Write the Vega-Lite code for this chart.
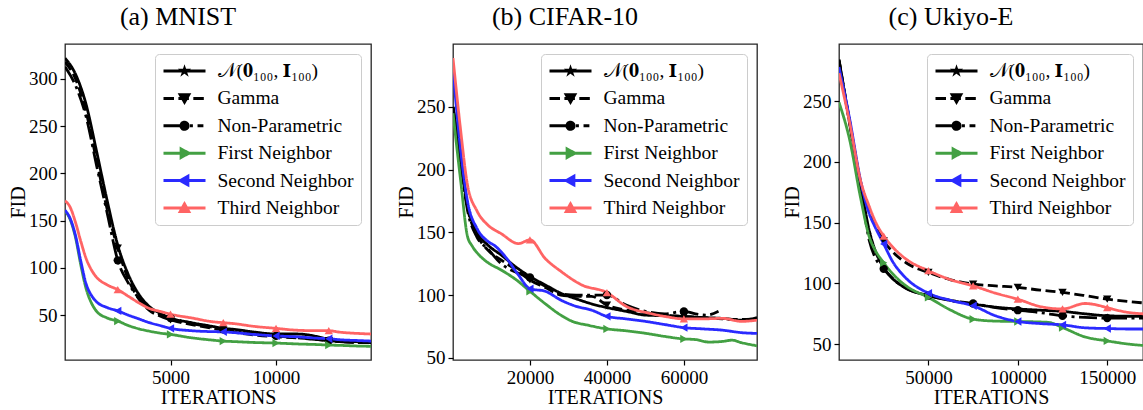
{
"$schema": "https://vega.github.io/schema/vega-lite/v6.json",
"padding": {"left": 7, "top": 3, "right": 0, "bottom": 0},
"background": "white",
"bounds": "flush",
"spacing": 82,
"datasets": {
"d": [
{"p":"A","s":"N","x":0,"y":322},{"p":"A","s":"N","x":500,"y":305},{"p":"A","s":"N","x":1000,"y":273},{"p":"A","s":"N","x":1500,"y":223},{"p":"A","s":"N","x":2000,"y":171},{"p":"A","s":"N","x":2500,"y":124},{"p":"A","s":"N","x":3000,"y":93},{"p":"A","s":"N","x":3500,"y":72},{"p":"A","s":"N","x":4000,"y":59},{"p":"A","s":"N","x":4500,"y":52},{"p":"A","s":"N","x":5000,"y":47},{"p":"A","s":"N","x":6000,"y":42},{"p":"A","s":"N","x":7000,"y":38},{"p":"A","s":"N","x":7500,"y":36},{"p":"A","s":"N","x":8000,"y":35},{"p":"A","s":"N","x":9000,"y":32},{"p":"A","s":"N","x":10000,"y":30},{"p":"A","s":"N","x":11000,"y":30},{"p":"A","s":"N","x":12000,"y":27},{"p":"A","s":"N","x":12500,"y":24},{"p":"A","s":"N","x":13000,"y":22.5},{"p":"A","s":"N","x":14000,"y":22},{"p":"A","s":"N","x":14500,"y":22},
{"p":"A","s":"Gamma","x":0,"y":318},{"p":"A","s":"Gamma","x":500,"y":300},{"p":"A","s":"Gamma","x":1000,"y":265},{"p":"A","s":"Gamma","x":1500,"y":213},{"p":"A","s":"Gamma","x":2000,"y":162},{"p":"A","s":"Gamma","x":2500,"y":121},{"p":"A","s":"Gamma","x":3000,"y":88},{"p":"A","s":"Gamma","x":3500,"y":67},{"p":"A","s":"Gamma","x":4000,"y":55},{"p":"A","s":"Gamma","x":4500,"y":49},{"p":"A","s":"Gamma","x":5000,"y":45},{"p":"A","s":"Gamma","x":6000,"y":40},{"p":"A","s":"Gamma","x":7000,"y":36},{"p":"A","s":"Gamma","x":7500,"y":34},{"p":"A","s":"Gamma","x":8000,"y":32},{"p":"A","s":"Gamma","x":9000,"y":29},{"p":"A","s":"Gamma","x":10000,"y":27},{"p":"A","s":"Gamma","x":11000,"y":26},{"p":"A","s":"Gamma","x":12000,"y":24},{"p":"A","s":"Gamma","x":12500,"y":23},{"p":"A","s":"Gamma","x":13000,"y":22},{"p":"A","s":"Gamma","x":14000,"y":21},{"p":"A","s":"Gamma","x":14500,"y":21},
{"p":"A","s":"Non-Parametric","x":0,"y":313},{"p":"A","s":"Non-Parametric","x":500,"y":293},{"p":"A","s":"Non-Parametric","x":1000,"y":260},{"p":"A","s":"Non-Parametric","x":1500,"y":208},{"p":"A","s":"Non-Parametric","x":2000,"y":158},{"p":"A","s":"Non-Parametric","x":2500,"y":108},{"p":"A","s":"Non-Parametric","x":3000,"y":84},{"p":"A","s":"Non-Parametric","x":3500,"y":68},{"p":"A","s":"Non-Parametric","x":4000,"y":57},{"p":"A","s":"Non-Parametric","x":4500,"y":51},{"p":"A","s":"Non-Parametric","x":5000,"y":47},{"p":"A","s":"Non-Parametric","x":6000,"y":41},{"p":"A","s":"Non-Parametric","x":7000,"y":37},{"p":"A","s":"Non-Parametric","x":7500,"y":35},{"p":"A","s":"Non-Parametric","x":8000,"y":33},{"p":"A","s":"Non-Parametric","x":9000,"y":30},{"p":"A","s":"Non-Parametric","x":10000,"y":28},{"p":"A","s":"Non-Parametric","x":11000,"y":26},{"p":"A","s":"Non-Parametric","x":12000,"y":24},{"p":"A","s":"Non-Parametric","x":12500,"y":23},{"p":"A","s":"Non-Parametric","x":13000,"y":22},{"p":"A","s":"Non-Parametric","x":14000,"y":21},{"p":"A","s":"Non-Parametric","x":14500,"y":21},
{"p":"A","s":"First Neighbor","x":0,"y":160},{"p":"A","s":"First Neighbor","x":250,"y":151},{"p":"A","s":"First Neighbor","x":500,"y":132},{"p":"A","s":"First Neighbor","x":750,"y":103},{"p":"A","s":"First Neighbor","x":1000,"y":78},{"p":"A","s":"First Neighbor","x":1250,"y":63},{"p":"A","s":"First Neighbor","x":1500,"y":54},{"p":"A","s":"First Neighbor","x":2000,"y":47},{"p":"A","s":"First Neighbor","x":2500,"y":43.7},{"p":"A","s":"First Neighbor","x":3000,"y":39},{"p":"A","s":"First Neighbor","x":3500,"y":35.5},{"p":"A","s":"First Neighbor","x":4000,"y":33},{"p":"A","s":"First Neighbor","x":4500,"y":31},{"p":"A","s":"First Neighbor","x":5000,"y":29.6},{"p":"A","s":"First Neighbor","x":6000,"y":26},{"p":"A","s":"First Neighbor","x":7000,"y":23.5},{"p":"A","s":"First Neighbor","x":7500,"y":22.5},{"p":"A","s":"First Neighbor","x":8000,"y":22},{"p":"A","s":"First Neighbor","x":9000,"y":21},{"p":"A","s":"First Neighbor","x":10000,"y":20.4},{"p":"A","s":"First Neighbor","x":11000,"y":19.5},{"p":"A","s":"First Neighbor","x":12000,"y":18.8},{"p":"A","s":"First Neighbor","x":12500,"y":18.3},{"p":"A","s":"First Neighbor","x":13000,"y":18},{"p":"A","s":"First Neighbor","x":14000,"y":17.2},{"p":"A","s":"First Neighbor","x":14500,"y":17},
{"p":"A","s":"Second Neighbor","x":0,"y":161},{"p":"A","s":"Second Neighbor","x":250,"y":152},{"p":"A","s":"Second Neighbor","x":500,"y":134},{"p":"A","s":"Second Neighbor","x":750,"y":107},{"p":"A","s":"Second Neighbor","x":1000,"y":83},{"p":"A","s":"Second Neighbor","x":1250,"y":71},{"p":"A","s":"Second Neighbor","x":1500,"y":64},{"p":"A","s":"Second Neighbor","x":2000,"y":58},{"p":"A","s":"Second Neighbor","x":2500,"y":54.5},{"p":"A","s":"Second Neighbor","x":3000,"y":50},{"p":"A","s":"Second Neighbor","x":3500,"y":46},{"p":"A","s":"Second Neighbor","x":4000,"y":42},{"p":"A","s":"Second Neighbor","x":4500,"y":39},{"p":"A","s":"Second Neighbor","x":5000,"y":36},{"p":"A","s":"Second Neighbor","x":6000,"y":33.5},{"p":"A","s":"Second Neighbor","x":7000,"y":32.5},{"p":"A","s":"Second Neighbor","x":7500,"y":32.3},{"p":"A","s":"Second Neighbor","x":8000,"y":31.5},{"p":"A","s":"Second Neighbor","x":9000,"y":29.5},{"p":"A","s":"Second Neighbor","x":10000,"y":28},{"p":"A","s":"Second Neighbor","x":11000,"y":27},{"p":"A","s":"Second Neighbor","x":12000,"y":25.5},{"p":"A","s":"Second Neighbor","x":12500,"y":25},{"p":"A","s":"Second Neighbor","x":13000,"y":24},{"p":"A","s":"Second Neighbor","x":14000,"y":23},{"p":"A","s":"Second Neighbor","x":14500,"y":22.5},
{"p":"A","s":"Third Neighbor","x":0,"y":171},{"p":"A","s":"Third Neighbor","x":250,"y":164},{"p":"A","s":"Third Neighbor","x":500,"y":148},{"p":"A","s":"Third Neighbor","x":750,"y":128},{"p":"A","s":"Third Neighbor","x":1000,"y":110},{"p":"A","s":"Third Neighbor","x":1250,"y":98},{"p":"A","s":"Third Neighbor","x":1500,"y":90},{"p":"A","s":"Third Neighbor","x":2000,"y":82},{"p":"A","s":"Third Neighbor","x":2500,"y":77},{"p":"A","s":"Third Neighbor","x":3000,"y":70},{"p":"A","s":"Third Neighbor","x":3500,"y":63},{"p":"A","s":"Third Neighbor","x":4000,"y":57},{"p":"A","s":"Third Neighbor","x":4500,"y":54},{"p":"A","s":"Third Neighbor","x":5000,"y":51},{"p":"A","s":"Third Neighbor","x":6000,"y":47},{"p":"A","s":"Third Neighbor","x":7000,"y":43},{"p":"A","s":"Third Neighbor","x":7500,"y":42},{"p":"A","s":"Third Neighbor","x":8000,"y":41},{"p":"A","s":"Third Neighbor","x":9000,"y":38},{"p":"A","s":"Third Neighbor","x":10000,"y":36},{"p":"A","s":"Third Neighbor","x":11000,"y":34},{"p":"A","s":"Third Neighbor","x":12000,"y":33.5},{"p":"A","s":"Third Neighbor","x":12500,"y":33.5},{"p":"A","s":"Third Neighbor","x":13000,"y":32},{"p":"A","s":"Third Neighbor","x":14000,"y":30.5},{"p":"A","s":"Third Neighbor","x":14500,"y":30},

{"p":"B","s":"N","x":0,"y":250},{"p":"B","s":"N","x":2000,"y":209},{"p":"B","s":"N","x":3750,"y":172},{"p":"B","s":"N","x":6250,"y":150},{"p":"B","s":"N","x":9000,"y":140},{"p":"B","s":"N","x":12500,"y":132},{"p":"B","s":"N","x":16500,"y":122},{"p":"B","s":"N","x":20000,"y":114.8},{"p":"B","s":"N","x":24000,"y":108},{"p":"B","s":"N","x":28000,"y":101.5},{"p":"B","s":"N","x":32000,"y":97},{"p":"B","s":"N","x":36000,"y":93},{"p":"B","s":"N","x":40000,"y":90},{"p":"B","s":"N","x":45000,"y":87},{"p":"B","s":"N","x":50000,"y":84},{"p":"B","s":"N","x":55000,"y":83.5},{"p":"B","s":"N","x":60000,"y":82.8},{"p":"B","s":"N","x":65000,"y":82},{"p":"B","s":"N","x":70000,"y":81.4},{"p":"B","s":"N","x":75000,"y":80},{"p":"B","s":"N","x":79000,"y":82},
{"p":"B","s":"Gamma","x":0,"y":250},{"p":"B","s":"Gamma","x":2000,"y":207},{"p":"B","s":"Gamma","x":3750,"y":170},{"p":"B","s":"Gamma","x":6250,"y":148},{"p":"B","s":"Gamma","x":9000,"y":136},{"p":"B","s":"Gamma","x":12500,"y":128},{"p":"B","s":"Gamma","x":16500,"y":120},{"p":"B","s":"Gamma","x":20000,"y":112},{"p":"B","s":"Gamma","x":24000,"y":106},{"p":"B","s":"Gamma","x":28000,"y":100},{"p":"B","s":"Gamma","x":32000,"y":99},{"p":"B","s":"Gamma","x":36000,"y":99},{"p":"B","s":"Gamma","x":40000,"y":92},{"p":"B","s":"Gamma","x":45000,"y":88},{"p":"B","s":"Gamma","x":50000,"y":86},{"p":"B","s":"Gamma","x":55000,"y":84},{"p":"B","s":"Gamma","x":60000,"y":83},{"p":"B","s":"Gamma","x":65000,"y":82},{"p":"B","s":"Gamma","x":70000,"y":81},{"p":"B","s":"Gamma","x":75000,"y":80.5},{"p":"B","s":"Gamma","x":79000,"y":81},
{"p":"B","s":"Non-Parametric","x":0,"y":250},{"p":"B","s":"Non-Parametric","x":2000,"y":205},{"p":"B","s":"Non-Parametric","x":3750,"y":168},{"p":"B","s":"Non-Parametric","x":6250,"y":146},{"p":"B","s":"Non-Parametric","x":9000,"y":137},{"p":"B","s":"Non-Parametric","x":12500,"y":125},{"p":"B","s":"Non-Parametric","x":16500,"y":118},{"p":"B","s":"Non-Parametric","x":20000,"y":114},{"p":"B","s":"Non-Parametric","x":24000,"y":107},{"p":"B","s":"Non-Parametric","x":28000,"y":101},{"p":"B","s":"Non-Parametric","x":32000,"y":100},{"p":"B","s":"Non-Parametric","x":36000,"y":100},{"p":"B","s":"Non-Parametric","x":40000,"y":100},{"p":"B","s":"Non-Parametric","x":45000,"y":92},{"p":"B","s":"Non-Parametric","x":50000,"y":87},{"p":"B","s":"Non-Parametric","x":55000,"y":85},{"p":"B","s":"Non-Parametric","x":60000,"y":87},{"p":"B","s":"Non-Parametric","x":63000,"y":85},{"p":"B","s":"Non-Parametric","x":66000,"y":84},{"p":"B","s":"Non-Parametric","x":69000,"y":87},
{"p":"B","s":"First Neighbor","x":0,"y":245},{"p":"B","s":"First Neighbor","x":2000,"y":191},{"p":"B","s":"First Neighbor","x":3750,"y":147},{"p":"B","s":"First Neighbor","x":5000,"y":139},{"p":"B","s":"First Neighbor","x":6750,"y":132},{"p":"B","s":"First Neighbor","x":9000,"y":126},{"p":"B","s":"First Neighbor","x":12500,"y":120},{"p":"B","s":"First Neighbor","x":16500,"y":112},{"p":"B","s":"First Neighbor","x":20000,"y":103},{"p":"B","s":"First Neighbor","x":24000,"y":93},{"p":"B","s":"First Neighbor","x":28000,"y":84},{"p":"B","s":"First Neighbor","x":31000,"y":79},{"p":"B","s":"First Neighbor","x":35000,"y":76},{"p":"B","s":"First Neighbor","x":40000,"y":73},{"p":"B","s":"First Neighbor","x":45000,"y":71.5},{"p":"B","s":"First Neighbor","x":50000,"y":69.5},{"p":"B","s":"First Neighbor","x":55000,"y":67},{"p":"B","s":"First Neighbor","x":60000,"y":65},{"p":"B","s":"First Neighbor","x":63000,"y":64.5},{"p":"B","s":"First Neighbor","x":66500,"y":62.5},{"p":"B","s":"First Neighbor","x":70000,"y":63},{"p":"B","s":"First Neighbor","x":72500,"y":64},{"p":"B","s":"First Neighbor","x":75000,"y":62},{"p":"B","s":"First Neighbor","x":79000,"y":59.5},
{"p":"B","s":"Second Neighbor","x":0,"y":280},{"p":"B","s":"Second Neighbor","x":2000,"y":215},{"p":"B","s":"Second Neighbor","x":3750,"y":175},{"p":"B","s":"Second Neighbor","x":6250,"y":153},{"p":"B","s":"Second Neighbor","x":9000,"y":143},{"p":"B","s":"Second Neighbor","x":11000,"y":139},{"p":"B","s":"Second Neighbor","x":14000,"y":129},{"p":"B","s":"Second Neighbor","x":17000,"y":116},{"p":"B","s":"Second Neighbor","x":20000,"y":105},{"p":"B","s":"Second Neighbor","x":24000,"y":103},{"p":"B","s":"Second Neighbor","x":28000,"y":96},{"p":"B","s":"Second Neighbor","x":32000,"y":91},{"p":"B","s":"Second Neighbor","x":36000,"y":88},{"p":"B","s":"Second Neighbor","x":40000,"y":83},{"p":"B","s":"Second Neighbor","x":45000,"y":81},{"p":"B","s":"Second Neighbor","x":50000,"y":79},{"p":"B","s":"Second Neighbor","x":55000,"y":76.5},{"p":"B","s":"Second Neighbor","x":60000,"y":74},{"p":"B","s":"Second Neighbor","x":65000,"y":73},{"p":"B","s":"Second Neighbor","x":70000,"y":72},{"p":"B","s":"Second Neighbor","x":75000,"y":70},{"p":"B","s":"Second Neighbor","x":79000,"y":69.4},
{"p":"B","s":"Third Neighbor","x":0,"y":289},{"p":"B","s":"Third Neighbor","x":2000,"y":231},{"p":"B","s":"Third Neighbor","x":3750,"y":188},{"p":"B","s":"Third Neighbor","x":6250,"y":167},{"p":"B","s":"Third Neighbor","x":9000,"y":156},{"p":"B","s":"Third Neighbor","x":12500,"y":149},{"p":"B","s":"Third Neighbor","x":17000,"y":141},{"p":"B","s":"Third Neighbor","x":20000,"y":144},{"p":"B","s":"Third Neighbor","x":24000,"y":129},{"p":"B","s":"Third Neighbor","x":28000,"y":119},{"p":"B","s":"Third Neighbor","x":33500,"y":108},{"p":"B","s":"Third Neighbor","x":40000,"y":102},{"p":"B","s":"Third Neighbor","x":45000,"y":91},{"p":"B","s":"Third Neighbor","x":51000,"y":85.5},{"p":"B","s":"Third Neighbor","x":55000,"y":83},{"p":"B","s":"Third Neighbor","x":60000,"y":81},{"p":"B","s":"Third Neighbor","x":65000,"y":81},{"p":"B","s":"Third Neighbor","x":70000,"y":81.4},{"p":"B","s":"Third Neighbor","x":75000,"y":79},{"p":"B","s":"Third Neighbor","x":79000,"y":80},

{"p":"C","s":"N","x":0,"y":284},{"p":"C","s":"N","x":6000,"y":232},{"p":"C","s":"N","x":12000,"y":182},{"p":"C","s":"N","x":17000,"y":143},{"p":"C","s":"N","x":20000,"y":128},{"p":"C","s":"N","x":25000,"y":113},{"p":"C","s":"N","x":30000,"y":104},{"p":"C","s":"N","x":37500,"y":96},{"p":"C","s":"N","x":50000,"y":90},{"p":"C","s":"N","x":62500,"y":86},{"p":"C","s":"N","x":75000,"y":83},{"p":"C","s":"N","x":87500,"y":80.5},{"p":"C","s":"N","x":100000,"y":79},{"p":"C","s":"N","x":112500,"y":78},{"p":"C","s":"N","x":125000,"y":77},{"p":"C","s":"N","x":137500,"y":75},{"p":"C","s":"N","x":150000,"y":73.4},{"p":"C","s":"N","x":162500,"y":73},{"p":"C","s":"N","x":170000,"y":73},
{"p":"C","s":"Gamma","x":0,"y":284},{"p":"C","s":"Gamma","x":6000,"y":233},{"p":"C","s":"Gamma","x":12000,"y":184},{"p":"C","s":"Gamma","x":17000,"y":160},{"p":"C","s":"Gamma","x":20000,"y":150},{"p":"C","s":"Gamma","x":25000,"y":135},{"p":"C","s":"Gamma","x":30000,"y":126},{"p":"C","s":"Gamma","x":37500,"y":117},{"p":"C","s":"Gamma","x":50000,"y":109},{"p":"C","s":"Gamma","x":62500,"y":103},{"p":"C","s":"Gamma","x":75000,"y":99.5},{"p":"C","s":"Gamma","x":87500,"y":98},{"p":"C","s":"Gamma","x":100000,"y":96.7},{"p":"C","s":"Gamma","x":112500,"y":94.5},{"p":"C","s":"Gamma","x":125000,"y":92.6},{"p":"C","s":"Gamma","x":137500,"y":90},{"p":"C","s":"Gamma","x":150000,"y":87.1},{"p":"C","s":"Gamma","x":162500,"y":85},{"p":"C","s":"Gamma","x":170000,"y":84},
{"p":"C","s":"Non-Parametric","x":0,"y":283},{"p":"C","s":"Non-Parametric","x":6000,"y":231},{"p":"C","s":"Non-Parametric","x":12000,"y":180},{"p":"C","s":"Non-Parametric","x":17000,"y":135},{"p":"C","s":"Non-Parametric","x":20000,"y":122},{"p":"C","s":"Non-Parametric","x":25000,"y":112},{"p":"C","s":"Non-Parametric","x":30000,"y":104},{"p":"C","s":"Non-Parametric","x":37500,"y":96},{"p":"C","s":"Non-Parametric","x":50000,"y":90},{"p":"C","s":"Non-Parametric","x":62500,"y":86},{"p":"C","s":"Non-Parametric","x":75000,"y":83.5},{"p":"C","s":"Non-Parametric","x":87500,"y":80},{"p":"C","s":"Non-Parametric","x":100000,"y":78},{"p":"C","s":"Non-Parametric","x":112500,"y":76},{"p":"C","s":"Non-Parametric","x":125000,"y":73.4},{"p":"C","s":"Non-Parametric","x":137500,"y":72},{"p":"C","s":"Non-Parametric","x":150000,"y":71.5},{"p":"C","s":"Non-Parametric","x":162500,"y":71.5},{"p":"C","s":"Non-Parametric","x":170000,"y":71.5},
{"p":"C","s":"First Neighbor","x":0,"y":249},{"p":"C","s":"First Neighbor","x":6000,"y":218},{"p":"C","s":"First Neighbor","x":12000,"y":171},{"p":"C","s":"First Neighbor","x":17000,"y":138},{"p":"C","s":"First Neighbor","x":20000,"y":128},{"p":"C","s":"First Neighbor","x":25000,"y":117},{"p":"C","s":"First Neighbor","x":30000,"y":108},{"p":"C","s":"First Neighbor","x":37500,"y":98},{"p":"C","s":"First Neighbor","x":50000,"y":88.5},{"p":"C","s":"First Neighbor","x":62500,"y":78},{"p":"C","s":"First Neighbor","x":75000,"y":70.6},{"p":"C","s":"First Neighbor","x":87500,"y":69},{"p":"C","s":"First Neighbor","x":100000,"y":68.7},{"p":"C","s":"First Neighbor","x":117000,"y":68},{"p":"C","s":"First Neighbor","x":125000,"y":63.7},{"p":"C","s":"First Neighbor","x":137500,"y":56},{"p":"C","s":"First Neighbor","x":150000,"y":52.7},{"p":"C","s":"First Neighbor","x":162500,"y":50},{"p":"C","s":"First Neighbor","x":170000,"y":49},
{"p":"C","s":"Second Neighbor","x":0,"y":278},{"p":"C","s":"Second Neighbor","x":6000,"y":235},{"p":"C","s":"Second Neighbor","x":12000,"y":185},{"p":"C","s":"Second Neighbor","x":17000,"y":157},{"p":"C","s":"Second Neighbor","x":20000,"y":147},{"p":"C","s":"Second Neighbor","x":25000,"y":132.5},{"p":"C","s":"Second Neighbor","x":30000,"y":118},{"p":"C","s":"Second Neighbor","x":37000,"y":105},{"p":"C","s":"Second Neighbor","x":50000,"y":92},{"p":"C","s":"Second Neighbor","x":62500,"y":86},{"p":"C","s":"Second Neighbor","x":75000,"y":81.6},{"p":"C","s":"Second Neighbor","x":87500,"y":73.4},{"p":"C","s":"Second Neighbor","x":100000,"y":68.7},{"p":"C","s":"Second Neighbor","x":112500,"y":67},{"p":"C","s":"Second Neighbor","x":125000,"y":65.9},{"p":"C","s":"Second Neighbor","x":137500,"y":63.5},{"p":"C","s":"Second Neighbor","x":150000,"y":62.9},{"p":"C","s":"Second Neighbor","x":162500,"y":62.5},{"p":"C","s":"Second Neighbor","x":170000,"y":62.5},
{"p":"C","s":"Third Neighbor","x":0,"y":273},{"p":"C","s":"Third Neighbor","x":6000,"y":232},{"p":"C","s":"Third Neighbor","x":12000,"y":185},{"p":"C","s":"Third Neighbor","x":17000,"y":163},{"p":"C","s":"Third Neighbor","x":20000,"y":152},{"p":"C","s":"Third Neighbor","x":25000,"y":139},{"p":"C","s":"Third Neighbor","x":30000,"y":130},{"p":"C","s":"Third Neighbor","x":37500,"y":120},{"p":"C","s":"Third Neighbor","x":50000,"y":110.5},{"p":"C","s":"Third Neighbor","x":62500,"y":103},{"p":"C","s":"Third Neighbor","x":75000,"y":98},{"p":"C","s":"Third Neighbor","x":87500,"y":92},{"p":"C","s":"Third Neighbor","x":100000,"y":87},{"p":"C","s":"Third Neighbor","x":112500,"y":81},{"p":"C","s":"Third Neighbor","x":125000,"y":79},{"p":"C","s":"Third Neighbor","x":137500,"y":83.5},{"p":"C","s":"Third Neighbor","x":145000,"y":82},{"p":"C","s":"Third Neighbor","x":150000,"y":80},{"p":"C","s":"Third Neighbor","x":162500,"y":76},{"p":"C","s":"Third Neighbor","x":170000,"y":75}
]
},
"resolve": {
  "scale": {"color": "independent", "fill": "independent", "shape": "independent", "strokeDash": "independent", "x": "independent", "y": "independent"},
  "legend": {"color": "independent"}
},
"hconcat": [
{
  "width": 306, "height": 316,
  "title": {"text": "(a) MNIST"},
  "data": {"name": "d"},
  "transform": [{"filter": "datum.p == 'A'"}],
  "layer": [
    {
      "mark": {"type": "line", "strokeWidth": 2.8, "interpolate": "monotone", "clip": true},
      "encoding": {
        "x": {"field": "x", "type": "quantitative", "scale": {"domain": [0, 14500], "nice": false, "zero": false}, "axis": {"values": [5000, 10000], "title": "ITERATIONS", "format": "d"}},
        "y": {"field": "y", "type": "quantitative", "scale": {"domain": [2.5, 337], "nice": false, "zero": false}, "axis": {"values": [50, 100, 150, 200, 250, 300], "title": "FID"}},
        "color": {"field": "s", "type": "nominal",
          "scale": {"domain": ["N", "Gamma", "Non-Parametric", "First Neighbor", "Second Neighbor", "Third Neighbor"], "range": ["#000000", "#000000", "#000000", "#43a043", "#2a2aff", "#ff6464"]},
          "legend": {"title": null, "orient": "top-right", "offset": 10, "padding": 7, "rowPadding": 7.4, "clipHeight": 20, "symbolSize": 1764, "symbolStrokeWidth": 3, "labelFont": "Liberation Serif", "labelFontSize": 19.5, "labelColor": "black", "labelOffset": 10.5, "labelLimit": 400, "fillColor": "white", "strokeColor": "#cccccc", "cornerRadius": 4,
            "labelExpr": "datum.value == 'N' ? '𝒩(𝟎₁₀₀, 𝐈₁₀₀)' : datum.value",
            "encode": {"symbols": {"update": {
              "shape": {"signal": "datum.value=='N' ? 'M-1,0H1M0,-0.1L0.023,-0.031L0.095,-0.031L0.036,0.012L0.059,0.081L0,0.038L-0.059,0.081L-0.036,0.012L-0.095,-0.031L-0.023,-0.031Z' : datum.value=='Gamma' ? 'M-1,0H-0.5M-0.29,0H0.21M0.42,0H0.92M-0.2,-0.17L0.2,-0.17L0,0.17Z' : datum.value=='Non-Parametric' ? 'M-1,0H-0.14M0.26,0H0.4M0.62,0H0.9M-0.17,0A0.17,0.17 0 1,0 0.17,0A0.17,0.17 0 1,0 -0.17,0Z' : datum.value=='First Neighbor' ? 'M-1,0H1M-0.16,-0.2L0.2,0L-0.16,0.2Z' : datum.value=='Second Neighbor' ? 'M-1,0H1M0.16,-0.2L-0.2,0L0.16,0.2Z' : 'M-1,0H1M-0.2,0.17L0.2,0.17L0,-0.19Z'"},
              "fill": {"signal": "datum.value=='First Neighbor' ? '#43a043' : datum.value=='Second Neighbor' ? '#2a2aff' : datum.value=='Third Neighbor' ? '#ff6464' : '#000000'"},
              "stroke": {"signal": "datum.value=='First Neighbor' ? '#43a043' : datum.value=='Second Neighbor' ? '#2a2aff' : datum.value=='Third Neighbor' ? '#ff6464' : '#000000'"},
              "opacity": {"value": 1},
              "strokeDash": {"value": [1, 0]},
              "size": {"value": 1764}
            }}}
          }},
        "strokeDash": {"field": "s", "type": "nominal", "scale": {"domain": ["Third Neighbor", "Second Neighbor", "First Neighbor", "Non-Parametric", "Gamma", "N"], "range": [[1, 0], [1, 0], [1, 0], [18, 4.5, 3, 4.5], [10, 4.5], [1, 0]]}, "legend": null}
      }
    },
    {
      "transform": [{"filter": "datum.x > 0 && datum.x % 2500 == 0"}],
      "mark": {"type": "point", "filled": true, "opacity": 1, "size": 70, "clip": true, "strokeWidth": 0},
      "encoding": {
        "x": {"field": "x", "type": "quantitative"},
        "y": {"field": "y", "type": "quantitative"},
        "fill": {"field": "s", "type": "nominal", "scale": {"domain": ["Third Neighbor", "Second Neighbor", "First Neighbor", "Non-Parametric", "Gamma", "N"], "range": ["#ff6464", "#2a2aff", "#43a043", "#000000", "#000000", "#000000"]}, "legend": null},
        "shape": {"field": "s", "type": "nominal", "scale": {"domain": ["Third Neighbor", "Second Neighbor", "First Neighbor", "Non-Parametric", "Gamma", "N"], "range": ["triangle-up", "triangle-left", "triangle-right", "circle", "triangle-down", "M0,-0.6L0.13,-0.19L0.57,-0.19L0.22,0.07L0.35,0.49L0,0.23L-0.35,0.49L-0.22,0.07L-0.57,-0.19L-0.13,-0.19Z"]}, "legend": null}
      }
    }
  ]
},
{
  "width": 304, "height": 316,
  "title": {"text": "(b) CIFAR-10"},
  "data": {"name": "d"},
  "transform": [{"filter": "datum.p == 'B'"}],
  "layer": [
    {
      "mark": {"type": "line", "strokeWidth": 2.8, "interpolate": "monotone", "clip": true},
      "encoding": {
        "x": {"field": "x", "type": "quantitative", "scale": {"domain": [0, 79000], "nice": false, "zero": false}, "axis": {"values": [20000, 40000, 60000], "title": "ITERATIONS", "format": "d"}},
        "y": {"field": "y", "type": "quantitative", "scale": {"domain": [48.2, 300.2], "nice": false, "zero": false}, "axis": {"values": [50, 100, 150, 200, 250], "title": "FID"}},
        "color": {"field": "s", "type": "nominal",
          "scale": {"domain": ["N", "Gamma", "Non-Parametric", "First Neighbor", "Second Neighbor", "Third Neighbor"], "range": ["#000000", "#000000", "#000000", "#43a043", "#2a2aff", "#ff6464"]},
          "legend": {"title": null, "orient": "top-right", "offset": 10, "padding": 7, "rowPadding": 7.4, "clipHeight": 20, "symbolSize": 1764, "symbolStrokeWidth": 3, "labelFont": "Liberation Serif", "labelFontSize": 19.5, "labelColor": "black", "labelOffset": 10.5, "labelLimit": 400, "fillColor": "white", "strokeColor": "#cccccc", "cornerRadius": 4,
            "labelExpr": "datum.value == 'N' ? '𝒩(𝟎₁₀₀, 𝐈₁₀₀)' : datum.value",
            "encode": {"symbols": {"update": {
              "shape": {"signal": "datum.value=='N' ? 'M-1,0H1M0,-0.1L0.023,-0.031L0.095,-0.031L0.036,0.012L0.059,0.081L0,0.038L-0.059,0.081L-0.036,0.012L-0.095,-0.031L-0.023,-0.031Z' : datum.value=='Gamma' ? 'M-1,0H-0.5M-0.29,0H0.21M0.42,0H0.92M-0.2,-0.17L0.2,-0.17L0,0.17Z' : datum.value=='Non-Parametric' ? 'M-1,0H-0.14M0.26,0H0.4M0.62,0H0.9M-0.17,0A0.17,0.17 0 1,0 0.17,0A0.17,0.17 0 1,0 -0.17,0Z' : datum.value=='First Neighbor' ? 'M-1,0H1M-0.16,-0.2L0.2,0L-0.16,0.2Z' : datum.value=='Second Neighbor' ? 'M-1,0H1M0.16,-0.2L-0.2,0L0.16,0.2Z' : 'M-1,0H1M-0.2,0.17L0.2,0.17L0,-0.19Z'"},
              "fill": {"signal": "datum.value=='First Neighbor' ? '#43a043' : datum.value=='Second Neighbor' ? '#2a2aff' : datum.value=='Third Neighbor' ? '#ff6464' : '#000000'"},
              "stroke": {"signal": "datum.value=='First Neighbor' ? '#43a043' : datum.value=='Second Neighbor' ? '#2a2aff' : datum.value=='Third Neighbor' ? '#ff6464' : '#000000'"},
              "opacity": {"value": 1},
              "strokeDash": {"value": [1, 0]},
              "size": {"value": 1764}
            }}}
          }},
        "strokeDash": {"field": "s", "type": "nominal", "scale": {"domain": ["Third Neighbor", "Second Neighbor", "First Neighbor", "Non-Parametric", "Gamma", "N"], "range": [[1, 0], [1, 0], [1, 0], [18, 4.5, 3, 4.5], [10, 4.5], [1, 0]]}, "legend": null}
      }
    },
    {
      "transform": [{"filter": "datum.x > 0 && datum.x % 20000 == 0"}],
      "mark": {"type": "point", "filled": true, "opacity": 1, "size": 70, "clip": true, "strokeWidth": 0},
      "encoding": {
        "x": {"field": "x", "type": "quantitative"},
        "y": {"field": "y", "type": "quantitative"},
        "fill": {"field": "s", "type": "nominal", "scale": {"domain": ["Third Neighbor", "Second Neighbor", "First Neighbor", "Non-Parametric", "Gamma", "N"], "range": ["#ff6464", "#2a2aff", "#43a043", "#000000", "#000000", "#000000"]}, "legend": null},
        "shape": {"field": "s", "type": "nominal", "scale": {"domain": ["Third Neighbor", "Second Neighbor", "First Neighbor", "Non-Parametric", "Gamma", "N"], "range": ["triangle-up", "triangle-left", "triangle-right", "circle", "triangle-down", "M0,-0.6L0.13,-0.19L0.57,-0.19L0.22,0.07L0.35,0.49L0,0.23L-0.35,0.49L-0.22,0.07L-0.57,-0.19L-0.13,-0.19Z"]}, "legend": null}
      }
    }
  ]
},
{
  "width": 304, "height": 316,
  "title": {"text": "(c) Ukiyo-E"},
  "data": {"name": "d"},
  "transform": [{"filter": "datum.p == 'C'"}],
  "layer": [
    {
      "mark": {"type": "line", "strokeWidth": 2.8, "interpolate": "monotone", "clip": true},
      "encoding": {
        "x": {"field": "x", "type": "quantitative", "scale": {"domain": [0, 170000], "nice": false, "zero": false}, "axis": {"values": [50000, 100000, 150000], "title": "ITERATIONS", "format": "d"}},
        "y": {"field": "y", "type": "quantitative", "scale": {"domain": [37, 297], "nice": false, "zero": false}, "axis": {"values": [50, 100, 150, 200, 250], "title": "FID"}},
        "color": {"field": "s", "type": "nominal",
          "scale": {"domain": ["N", "Gamma", "Non-Parametric", "First Neighbor", "Second Neighbor", "Third Neighbor"], "range": ["#000000", "#000000", "#000000", "#43a043", "#2a2aff", "#ff6464"]},
          "legend": {"title": null, "orient": "top-right", "offset": 10, "padding": 7, "rowPadding": 7.4, "clipHeight": 20, "symbolSize": 1764, "symbolStrokeWidth": 3, "labelFont": "Liberation Serif", "labelFontSize": 19.5, "labelColor": "black", "labelOffset": 10.5, "labelLimit": 400, "fillColor": "white", "strokeColor": "#cccccc", "cornerRadius": 4,
            "labelExpr": "datum.value == 'N' ? '𝒩(𝟎₁₀₀, 𝐈₁₀₀)' : datum.value",
            "encode": {"symbols": {"update": {
              "shape": {"signal": "datum.value=='N' ? 'M-1,0H1M0,-0.1L0.023,-0.031L0.095,-0.031L0.036,0.012L0.059,0.081L0,0.038L-0.059,0.081L-0.036,0.012L-0.095,-0.031L-0.023,-0.031Z' : datum.value=='Gamma' ? 'M-1,0H-0.5M-0.29,0H0.21M0.42,0H0.92M-0.2,-0.17L0.2,-0.17L0,0.17Z' : datum.value=='Non-Parametric' ? 'M-1,0H-0.14M0.26,0H0.4M0.62,0H0.9M-0.17,0A0.17,0.17 0 1,0 0.17,0A0.17,0.17 0 1,0 -0.17,0Z' : datum.value=='First Neighbor' ? 'M-1,0H1M-0.16,-0.2L0.2,0L-0.16,0.2Z' : datum.value=='Second Neighbor' ? 'M-1,0H1M0.16,-0.2L-0.2,0L0.16,0.2Z' : 'M-1,0H1M-0.2,0.17L0.2,0.17L0,-0.19Z'"},
              "fill": {"signal": "datum.value=='First Neighbor' ? '#43a043' : datum.value=='Second Neighbor' ? '#2a2aff' : datum.value=='Third Neighbor' ? '#ff6464' : '#000000'"},
              "stroke": {"signal": "datum.value=='First Neighbor' ? '#43a043' : datum.value=='Second Neighbor' ? '#2a2aff' : datum.value=='Third Neighbor' ? '#ff6464' : '#000000'"},
              "opacity": {"value": 1},
              "strokeDash": {"value": [1, 0]},
              "size": {"value": 1764}
            }}}
          }},
        "strokeDash": {"field": "s", "type": "nominal", "scale": {"domain": ["Third Neighbor", "Second Neighbor", "First Neighbor", "Non-Parametric", "Gamma", "N"], "range": [[1, 0], [1, 0], [1, 0], [18, 4.5, 3, 4.5], [10, 4.5], [1, 0]]}, "legend": null}
      }
    },
    {
      "transform": [{"filter": "datum.x > 0 && datum.x % 25000 == 0"}],
      "mark": {"type": "point", "filled": true, "opacity": 1, "size": 70, "clip": true, "strokeWidth": 0},
      "encoding": {
        "x": {"field": "x", "type": "quantitative"},
        "y": {"field": "y", "type": "quantitative"},
        "fill": {"field": "s", "type": "nominal", "scale": {"domain": ["Third Neighbor", "Second Neighbor", "First Neighbor", "Non-Parametric", "Gamma", "N"], "range": ["#ff6464", "#2a2aff", "#43a043", "#000000", "#000000", "#000000"]}, "legend": null},
        "shape": {"field": "s", "type": "nominal", "scale": {"domain": ["Third Neighbor", "Second Neighbor", "First Neighbor", "Non-Parametric", "Gamma", "N"], "range": ["triangle-up", "triangle-left", "triangle-right", "circle", "triangle-down", "M0,-0.6L0.13,-0.19L0.57,-0.19L0.22,0.07L0.35,0.49L0,0.23L-0.35,0.49L-0.22,0.07L-0.57,-0.19L-0.13,-0.19Z"]}, "legend": null}
      }
    }
  ]
}
],
"config": {
  "font": "Liberation Serif",
  "view": {"stroke": "#262626", "strokeWidth": 1.3},
  "title": {"font": "Liberation Serif", "fontSize": 26, "fontWeight": "normal", "color": "black", "anchor": "middle", "dx": -40, "offset": 14, "baseline": "alphabetic"},
  "legend": {"labelFont": "Liberation Serif"},
  "axis": {"labelFont": "Liberation Serif", "labelFontSize": 19, "labelColor": "black", "titleFont": "Liberation Serif", "titleFontSize": 20, "titleFontWeight": "normal", "titleColor": "black", "tickColor": "black", "tickSize": 5, "tickWidth": 1.2, "domain": false, "grid": false, "labelPadding": 3, "labelFlush": false, "labelOverlap": false, "titlePadding": 0}
}
}
